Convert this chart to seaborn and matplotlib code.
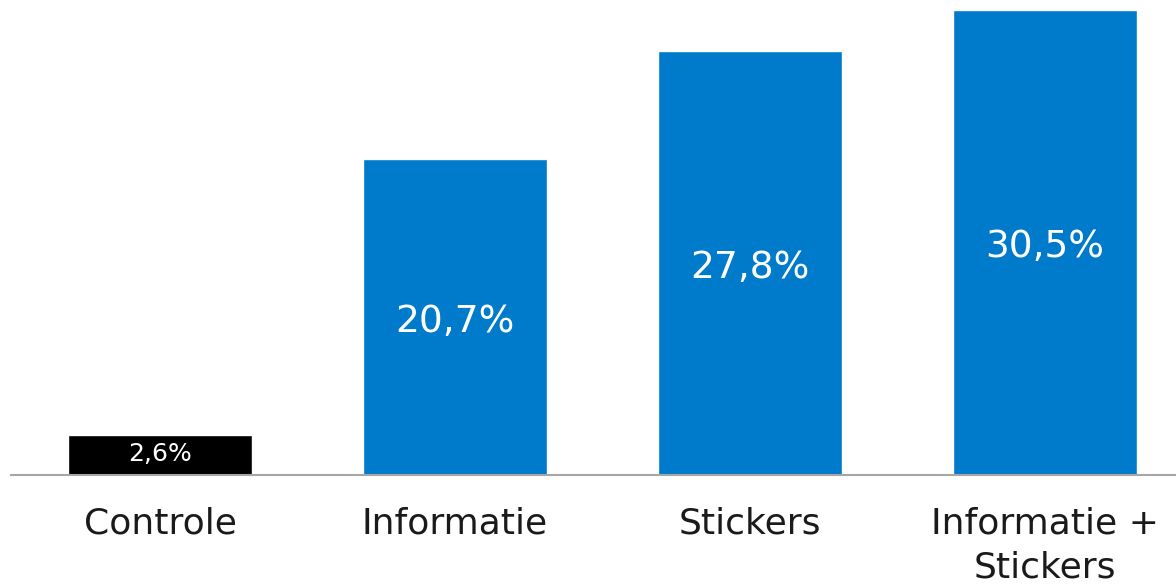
import matplotlib
matplotlib.use("Agg")
import matplotlib.pyplot as plt
import seaborn as sns
import pandas as pd

categories = ["Controle", "Informatie", "Stickers", "Informatie +\nStickers"]
values = [2.6, 20.7, 27.8, 30.5]
labels = ["2,6%", "20,7%", "27,8%", "30,5%"]
colors = ["#000000", "#007BCB", "#007BCB", "#007BCB"]

sns.set_theme(style="white")
plt.rcParams['font.family'] = ['DejaVu Sans']

df = pd.DataFrame({"cat": categories, "val": values})

fig = plt.figure(figsize=(11.76, 5.86), dpi=100)
ax = fig.add_axes([11/1176, (586-475)/586, 1165/1176, 475/586])
sns.barplot(data=df, x="cat", y="val", hue="cat", palette=colors,
            order=categories, hue_order=categories, legend=False,
            width=184/295, ax=ax, saturation=1)

ax.set_xlim(-0.505, 3.444)
ax.set_ylim(0, 475/15.25)
for s in ["top", "right", "left"]:
    ax.spines[s].set_visible(False)
ax.spines["bottom"].set_color("#A6A6A6")
ax.spines["bottom"].set_linewidth(1.5)
ax.set_yticks([])
ax.set_xlabel("")
ax.set_ylabel("")
ax.tick_params(axis="x", length=0, pad=23, labelsize=26, labelcolor="#1a1a1a")
for t in ax.get_xticklabels():
    t.set_linespacing(1.35)

for i, (v, lab) in enumerate(zip(values, labels)):
    if v < 5:
        ax.text(i, v / 2 + 0.1, lab, ha="center", va="center", color="white", fontsize=18)
    else:
        ax.text(i, v / 2 - 0.33, lab, ha="center", va="center", color="white", fontsize=27)

fig.savefig("out.png", dpi=100)
